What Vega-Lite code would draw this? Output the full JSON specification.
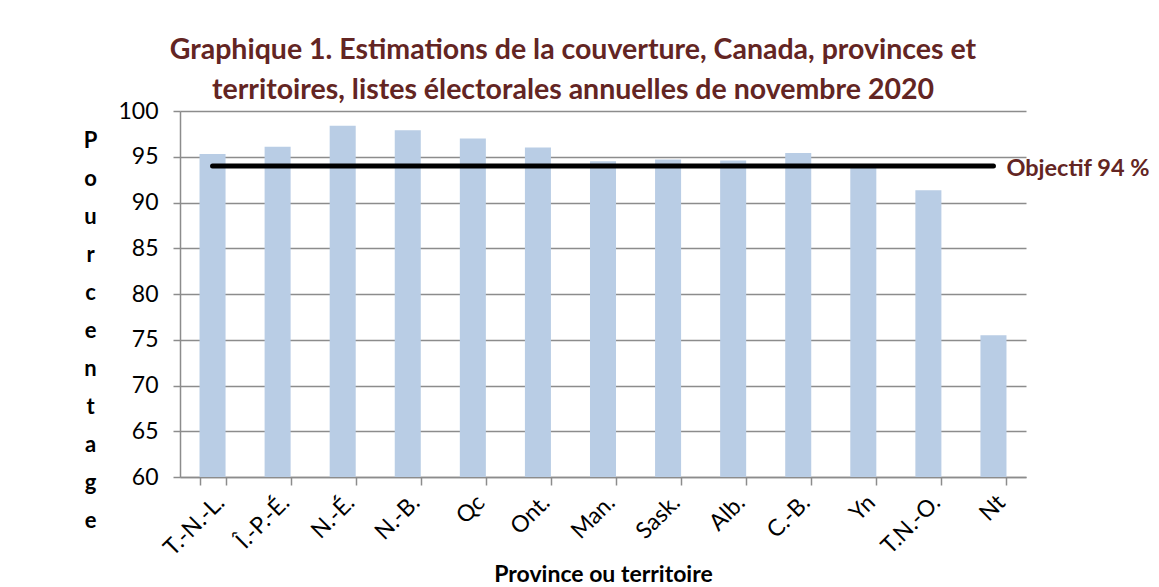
{
  "$schema": "https://vega.github.io/schema/vega-lite/v6.json",
  "autosize": {"type": "none"},
  "width": 846,
  "height": 366,
  "padding": {"left": 180, "top": 111, "right": 133, "bottom": 110},
  "background": "white",
  "config": {
    "font": "Lato",
    "view": {"stroke": null},
    "axis": {"labelFont": "Lato", "titleFont": "Lato"}
  },
  "title": {
    "text": ["Graphique 1. Estimations de la couverture, Canada, provinces et", "territoires, listes électorales annuelles de novembre 2020"],
    "font": "Lato",
    "fontSize": 28.5,
    "fontWeight": "bold",
    "color": "#632523",
    "anchor": "middle",
    "dx": -30,
    "offset": -4,
    "lineHeight": 40
  },
  "datasets": {
    "bars": [
      {"province": "T.-N.-L.", "pourcentage": 95.3},
      {"province": "Î.-P.-É.", "pourcentage": 96.1},
      {"province": "N.-É.", "pourcentage": 98.4},
      {"province": "N.-B.", "pourcentage": 97.9},
      {"province": "Qc", "pourcentage": 97.0},
      {"province": "Ont.", "pourcentage": 96.0},
      {"province": "Man.", "pourcentage": 94.5},
      {"province": "Sask.", "pourcentage": 94.7},
      {"province": "Alb.", "pourcentage": 94.6},
      {"province": "C.-B.", "pourcentage": 95.4},
      {"province": "Yn", "pourcentage": 94.0},
      {"province": "T.N.-O.", "pourcentage": 91.35},
      {"province": "Nt", "pourcentage": 75.5}
    ],
    "objectif": [
      {"province": "T.-N.-L.", "valeur": 94, "label": ""},
      {"province": "Nt", "valeur": 94, "label": "Objectif 94 %"}
    ]
  },
  "layer": [
    {
      "data": {"name": "bars"},
      "mark": {"type": "bar", "color": "#B9CDE5", "clip": true},
      "encoding": {
        "x": {
          "field": "province",
          "type": "nominal",
          "sort": null,
          "scale": {"paddingInner": 0.6, "paddingOuter": 0.3},
          "axis": {
            "title": "Province ou territoire",
            "titleFontSize": 23,
            "titleFontWeight": "bold",
            "titleColor": "black",
            "titleBaseline": "middle",
            "titleY": 97,
            "labelAngle": -45,
            "labelFontSize": 23,
            "labelColor": "black",
            "labelPadding": 6,
            "tickBand": "extent",
            "tickSize": 8,
            "tickColor": "#8c8c8c",
            "tickWidth": 1.5,
            "domainColor": "#8c8c8c",
            "domainWidth": 1.5,
            "grid": false
          }
        },
        "y": {
          "field": "pourcentage",
          "type": "quantitative",
          "scale": {"domain": [60, 100], "nice": false, "zero": false},
          "axis": {
            "values": [60, 65, 70, 75, 80, 85, 90, 95, 100],
            "title": ["P", "o", "u", "r", "c", "e", "n", "t", "a", "g", "e"],
            "titleAngle": 0,
            "titleAlign": "center",
            "titleBaseline": "top",
            "titleX": -90,
            "titleY": 19,
            "titleLineHeight": 38,
            "titleFontSize": 22,
            "titleFontWeight": "bold",
            "titleColor": "black",
            "labelFontSize": 23,
            "labelColor": "black",
            "labelPadding": 15,
            "tickSize": 7,
            "tickColor": "#8c8c8c",
            "tickWidth": 1.5,
            "domainColor": "#8c8c8c",
            "domainWidth": 1.5,
            "grid": true,
            "gridColor": "#8c8c8c",
            "gridWidth": 1.5
          }
        }
      }
    },
    {
      "data": {"name": "objectif"},
      "mark": {"type": "line", "color": "black", "strokeWidth": 5, "strokeCap": "round"},
      "encoding": {
        "x": {"field": "province", "type": "nominal", "sort": null},
        "y": {"field": "valeur", "type": "quantitative"}
      }
    },
    {
      "data": {"name": "objectif"},
      "mark": {"type": "text", "align": "left", "baseline": "middle", "dx": 13, "dy": 3, "fontSize": 23.5, "fontWeight": "bold", "color": "#632523", "font": "Lato"},
      "encoding": {
        "x": {"field": "province", "type": "nominal", "sort": null},
        "y": {"field": "valeur", "type": "quantitative"},
        "text": {"field": "label"}
      }
    }
  ]
}
